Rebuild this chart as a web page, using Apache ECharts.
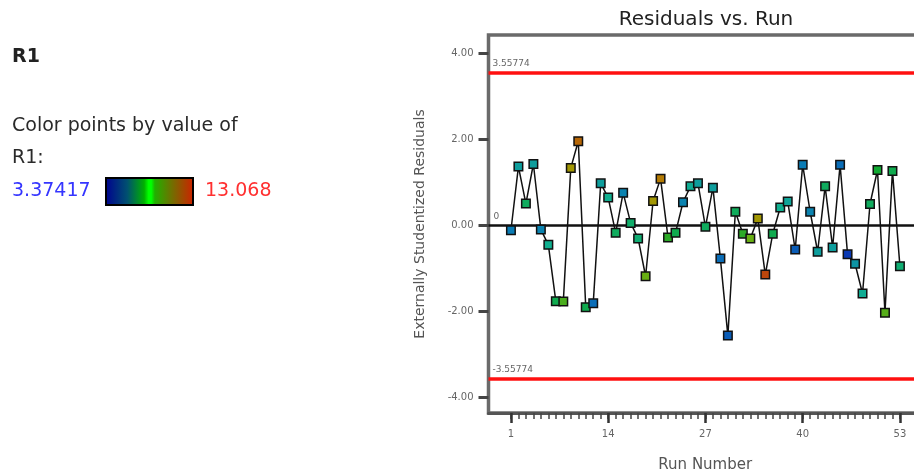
<!DOCTYPE html>
<html><head><meta charset="utf-8">
<script src="https://cdn.jsdelivr.net/npm/echarts@6/dist/echarts.min.js"></script>
<style>html,body{margin:0;padding:0;background:#fff}#c{width:914px;height:475px}</style>
</head><body><div id="c"></div>
<script>
var runs = [1,2,3,4,5,6,7,8,9,10,11,12,13,14,15,16,17,18,19,20,21,22,23,24,25,26,27,28,29,30,31,32,33,34,35,36,37,38,39,40,41,42,43,44,45,46,47,48,49,50,51,52,53];
var residuals = [-0.11,1.37,0.51,1.43,-0.09,-0.45,-1.76,-1.77,1.34,1.96,-1.90,-1.81,0.98,0.65,-0.17,0.76,0.06,-0.30,-1.18,0.57,1.09,-0.28,-0.17,0.54,0.91,0.98,-0.03,0.88,-0.77,-2.56,0.32,-0.19,-0.30,0.16,-1.14,-0.19,0.42,0.56,-0.56,1.41,0.32,-0.61,0.91,-0.51,1.41,-0.67,-0.89,-1.58,0.50,1.29,-2.03,1.27,-0.95];
var r1Values = [5.1,6.1,7.45,6.1,5.3,6.6,7.7,9.2,11.1,12.1,7.7,4.8,6.1,6.6,7.45,5.3,7.25,7.1,9.7,11.1,11.8,8.7,7.7,5.3,6.5,6.1,7.45,6.1,4.8,4.5,7.5,8.7,9.7,11.1,12.6,7.7,6.6,6.3,4.5,5.1,5.3,6.1,7.45,6.1,4.8,3.9,5.8,6.5,7.45,8.2,9.4,7.7,7.1];
var limitValue = 3.55774;
var r1Min = 3.37417, r1Max = 13.068;
var yTicks = [-4,-2,0,2,4];
var xMajorTicks = [1,14,27,40,53];

var FONT = '"DejaVu Sans", "Open Sans", sans-serif';
var pts = runs.map(function(r,i){ return [r, residuals[i], r1Values[i]]; });
var X_MIN = -2.0, X_MAX = 55.95, Y_MIN = -4.36, Y_MAX = 4.43;

var chart = echarts.init(document.getElementById('c'));
chart.setOption({
  animation: false,
  backgroundColor: '#fff',
  grid: { left: 488.5, top: 35, right: -8, bottom: 62, show: true, borderColor: '#6a6a6a', borderWidth: 3.5,
    containLabel: false, outerBoundsMode: 'none' },
  visualMap: { show: false, type: 'continuous', dimension: 2, min: r1Min, max: r1Max, seriesIndex: 0,
    inRange: { color: ['#0a1ab0','#0a78b8','#10b090','#10a830','#70b010','#b09000','#c02810'] } },
  xAxis: [
    { type: 'value', min: X_MIN, max: X_MAX, position: 'bottom',
      axisLine: { show: true, onZero: false, lineStyle: { color: '#555', width: 3 } },
      axisTick: { show: true, customValues: runs, length: 6, lineStyle: { color: '#444', width: 1.5 } },
      axisLabel: { show: false }, splitLine: { show: false } },
    { type: 'value', min: X_MIN, max: X_MAX, position: 'bottom',
      axisLine: { show: false, onZero: false },
      axisTick: { show: true, customValues: xMajorTicks, length: 10, lineStyle: { color: '#333', width: 2.5 } },
      axisLabel: { show: true, customValues: xMajorTicks, fontSize: 10, color: '#666', fontFamily: FONT, margin: 16 },
      splitLine: { show: false },
      name: 'Run Number', nameLocation: 'middle', nameGap: 45,
      nameTextStyle: { fontSize: 15, color: '#555', fontFamily: FONT } }
  ],
  yAxis: { type: 'value', min: Y_MIN, max: Y_MAX,
    axisLine: { show: false, onZero: false },
    axisTick: { show: true, customValues: yTicks, length: 10, lineStyle: { color: '#444', width: 3 } },
    axisLabel: { show: true, customValues: yTicks, fontSize: 10, color: '#666', fontFamily: FONT, margin: 15,
      formatter: function(v){ return v.toFixed(2); } },
    splitLine: { show: false },
    name: 'Externally Studentized Residuals', nameLocation: 'middle', nameGap: 61, nameRotate: 90,
    nameTextStyle: { fontSize: 14, color: '#555', fontFamily: FONT } },
  series: [{
    type: 'line', data: pts, xAxisIndex: 0,
    symbol: 'rect', symbolSize: 8.5, showAllSymbol: true,
    lineStyle: { color: '#111', width: 1.5 },
    itemStyle: { borderColor: '#111', borderWidth: 1.5 },
    z: 5,
    markLine: { silent: true, symbol: 'none', animation: false, z: 3,
      data: [
        { yAxis: limitValue, lineStyle: { color: '#ff1010', width: 3.5, type: 'solid' },
          label: { show: true, position: 'insideStartTop', formatter: '3.55774', fontSize: 9, color: '#666', distance: [4, 4], fontFamily: FONT } },
        { yAxis: -limitValue, lineStyle: { color: '#ff1010', width: 3.5, type: 'solid' },
          label: { show: true, position: 'insideStartTop', formatter: '-3.55774', fontSize: 9, color: '#666', distance: [4, 4], fontFamily: FONT } },
        { yAxis: 0, lineStyle: { color: '#111', width: 2.5, type: 'solid' },
          label: { show: true, position: 'insideStartTop', formatter: '0', fontSize: 9, color: '#666', distance: [5, 4], fontFamily: FONT } }
      ] }
  }],
  graphic: [
    { type: 'text', x: 706, y: 20, style: { text: 'Residuals vs. Run', fontSize: 20, fill: '#222', fontFamily: FONT, textAlign: 'center', textVerticalAlign: 'middle' } },
    { type: 'text', x: 12, y: 57.5, style: { text: 'R1', fontSize: 19, fontWeight: 'bold', fill: '#222', fontFamily: FONT, textVerticalAlign: 'middle' } },
    { type: 'text', x: 12, y: 126.5, style: { text: 'Color points by value of', fontSize: 19, fill: '#2a2a2a', fontFamily: FONT, textVerticalAlign: 'middle' } },
    { type: 'text', x: 12, y: 158.5, style: { text: 'R1:', fontSize: 19, fill: '#2a2a2a', fontFamily: FONT, textVerticalAlign: 'middle' } },
    { type: 'text', x: 12, y: 191.5, style: { text: String(r1Min), fontSize: 19, fill: '#3535ff', fontFamily: FONT, textVerticalAlign: 'middle' } },
    { type: 'rect', shape: { x: 106, y: 178, width: 87, height: 27 },
      style: { stroke: '#000', lineWidth: 2,
        fill: new echarts.graphic.LinearGradient(0, 0, 1, 0, [
          { offset: 0, color: '#000090' }, { offset: 0.25, color: '#005070' },
          { offset: 0.44, color: '#00b000' }, { offset: 0.49, color: '#00ff00' }, { offset: 0.52, color: '#00ff00' },
          { offset: 0.56, color: '#20b000' }, { offset: 0.75, color: '#707000' }, { offset: 1, color: '#d02000' } ]) } },
    { type: 'text', x: 205, y: 191.5, style: { text: String(r1Max), fontSize: 19, fill: '#ff3030', fontFamily: FONT, textVerticalAlign: 'middle' } }
  ]
});
</script></body></html>
